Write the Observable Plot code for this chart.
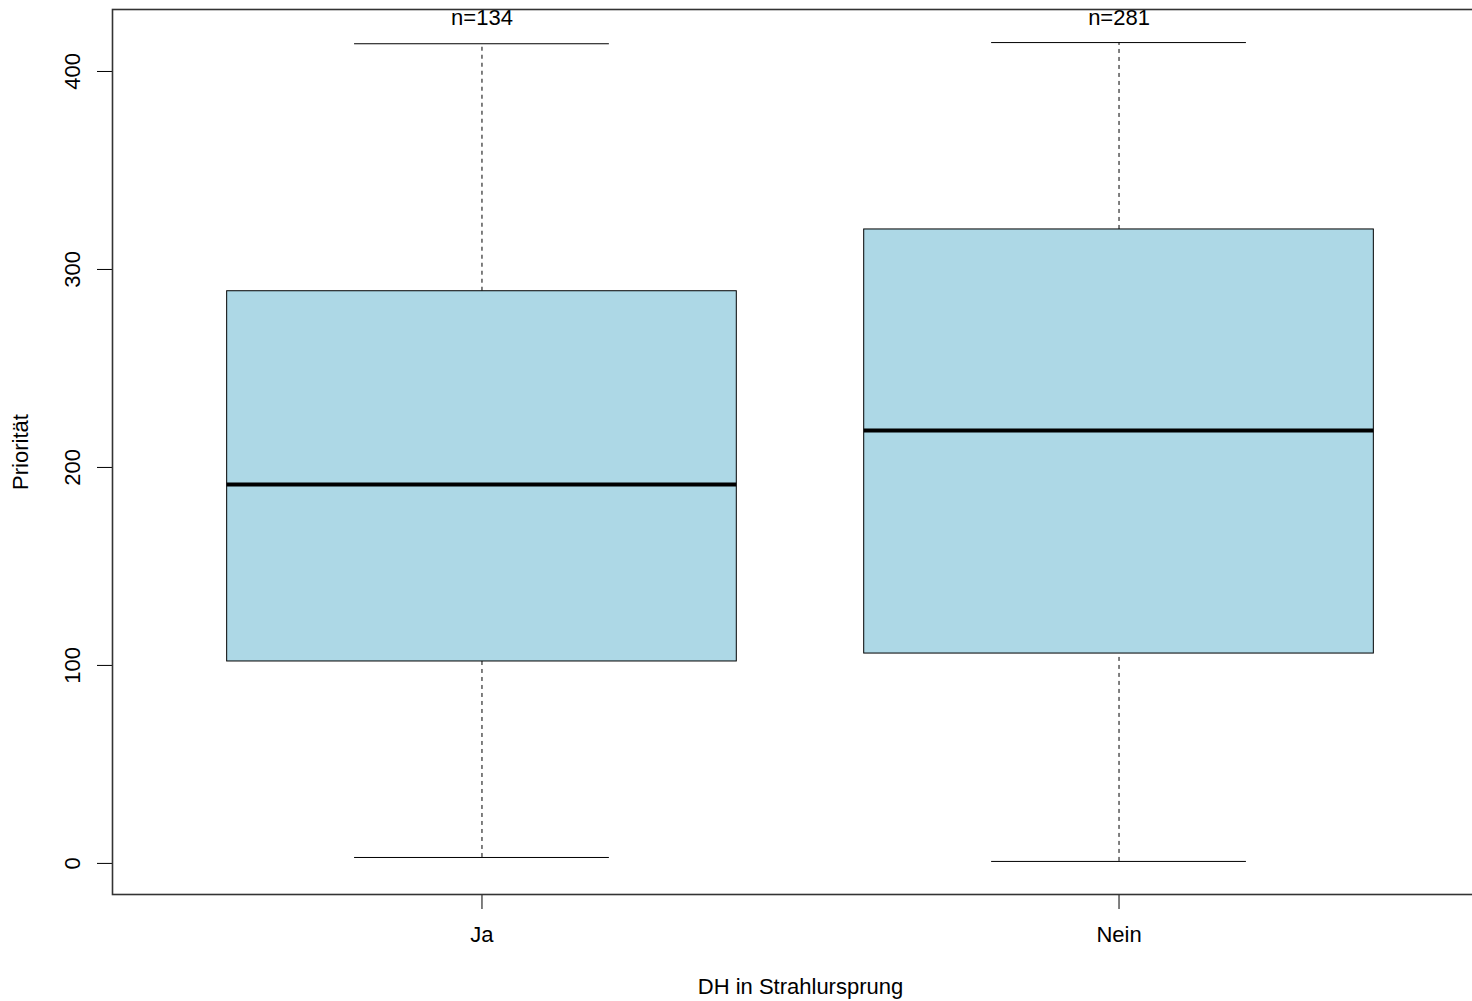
<!DOCTYPE html>
<html>
<head>
<meta charset="utf-8">
<script src="https://cdn.jsdelivr.net/npm/d3@7"></script>
<script src="https://cdn.jsdelivr.net/npm/@observablehq/plot@0.6"></script>
<style>
  html, body { margin: 0; padding: 0; background: #fff; overflow: hidden; }
  #chart { width: 1472px; height: 1001px; overflow: hidden; }
  #chart svg { max-width: none !important; display: block; }
</style>
</head>
<body>
<div id="chart"></div>
<script>
const categories = ["Ja", "Nein"];
const counts = [134, 281];
const mins = [3, 1];
const q1s = [102, 106];
const medians = [191.4, 218.7];
const q3s = [289, 320.2];
const maxs = [414, 414.6];
const yTicks = [0, 100, 200, 300, 400];
const xTitle = "DH in Strahlursprung";
const yTitle = "Priorität";

const data = categories.map((c, k) => ({
  i: k + 1, cat: c, n: counts[k], min: mins[k], q1: q1s[k],
  med: medians[k], q3: q3s[k], max: maxs[k]
}));

const font = "Liberation Sans, Arial, sans-serif";
const fs = 22;

const chart = Plot.plot({
  width: 1490,
  height: 1001,
  marginTop: 9,
  marginBottom: 107,
  marginLeft: 112,
  marginRight: 2,
  style: { fontFamily: font, fontSize: fs + "px", color: "#000", background: "#fff", maxWidth: "none" },
  x: { type: "linear", domain: [0.42, 2.58] },
  y: { domain: [-15.7, 431.3] },
  marks: [
    // whiskers
    Plot.ruleX(data, { x: "i", y1: "q3", y2: "max", stroke: "#000", strokeWidth: 1, strokeDasharray: "4,4" }),
    Plot.ruleX(data, { x: "i", y1: "min", y2: "q1", stroke: "#000", strokeWidth: 1, strokeDasharray: "4,4" }),
    // caps
    Plot.ruleY(data, { y: "max", x1: d => d.i - 0.2, x2: d => d.i + 0.2, stroke: "#000", strokeWidth: 1 }),
    Plot.ruleY(data, { y: "min", x1: d => d.i - 0.2, x2: d => d.i + 0.2, stroke: "#000", strokeWidth: 1 }),
    // boxes
    Plot.rect(data, { x1: d => d.i - 0.4, x2: d => d.i + 0.4, y1: "q1", y2: "q3", fill: "#ADD8E6", stroke: "#000", strokeWidth: 1 }),
    // medians
    Plot.ruleY(data, { y: "med", x1: d => d.i - 0.4, x2: d => d.i + 0.4, stroke: "#000", strokeWidth: 4 }),
    // n labels
    Plot.text(data, { x: "i", text: d => "n=" + d.n, frameAnchor: "top", dy: 0, fontSize: fs, fill: "#000", textAnchor: "middle" }),
    // axes
    Plot.axisX({ ticks: [1, 2], tickFormat: d => categories[d - 1], tickSize: 15, tickPadding: 17, label: null, fontSize: fs, stroke: "#000" }),
    Plot.axisY({ ticks: yTicks, tickSize: 15, tickFormat: () => "", label: null, stroke: "#000" }),
    Plot.text(yTicks, { y: d => d, text: d => String(d), frameAnchor: "left", dx: -40, rotate: -90, fontSize: fs, fill: "#000", textAnchor: "middle" }),
    // titles
    Plot.text([xTitle], { frameAnchor: "bottom", dy: 99, fontSize: fs, fill: "#000", textAnchor: "middle" }),
    Plot.text([yTitle], { frameAnchor: "left", dx: -92, rotate: -90, fontSize: fs, fill: "#000", textAnchor: "middle" }),
    Plot.frame({ stroke: "#333", strokeWidth: 1.6 })
  ]
});
document.getElementById("chart").appendChild(chart);
</script>
</body>
</html>
